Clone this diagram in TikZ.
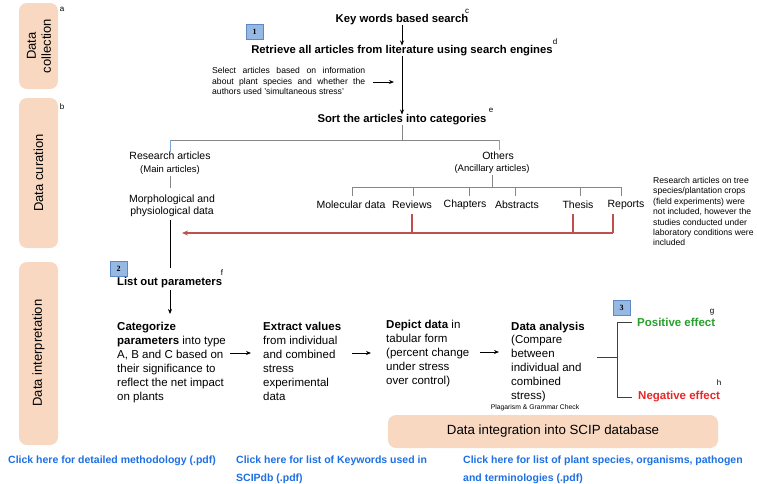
\documentclass[tikz,border=0pt]{standalone}
\usepackage{fontspec}
\setmainfont{Liberation Sans}
\newfontfamily\serifnum{Liberation Serif}
\usetikzlibrary{arrows.meta}
\definecolor{peach}{RGB}{249,216,194}
\definecolor{treegray}{RGB}{135,135,135}
\definecolor{tickblue}{RGB}{125,165,210}
\definecolor{redline}{RGB}{190,80,78}
\definecolor{numfill}{RGB}{150,185,228}
\definecolor{numdraw}{RGB}{95,135,195}
\definecolor{posgreen}{RGB}{40,160,45}
\definecolor{negred}{RGB}{232,40,40}
\definecolor{linkblue}{RGB}{30,112,228}
\begin{document}
\begin{tikzpicture}[x=1pt,y=-1pt,
  bar/.style={fill=peach,draw=none,rounded corners=8pt},
  barlabel/.style={rotate=90,align=center,inner sep=0,font=\fontsize{13}{15}\selectfont},
  head/.style={inner sep=0,font=\fontsize{11.3}{13}\selectfont\bfseries},
  tag/.style={inner sep=0,font=\fontsize{8}{9}\selectfont},
  treelbl/.style={inner sep=0,align=center,font=\fontsize{10.5}{12}\selectfont},
  sublbl/.style={inner sep=0,align=center,font=\fontsize{9.5}{11}\selectfont},
  note/.style={inner sep=0,align=left,font=\fontsize{8.6}{10.4}\selectfont},
  body/.style={inner sep=0,align=left,anchor=base west,font=\fontsize{11.5}{13.9}\selectfont},
  numbox/.style={fill=numfill,draw=numdraw,line width=0.5pt,minimum width=17pt,minimum height=15pt,inner sep=0,font=\serifnum\bfseries\fontsize{8}{9}\selectfont},
  arr/.style={-{Stealth[length=5pt,width=4pt]},line width=0.8pt},
  tree/.style={draw=treegray,line width=1pt},
  tickb/.style={draw=tickblue,line width=1pt},
  redl/.style={draw=redline,line width=1.2pt},
  link/.style={inner sep=0,align=left,anchor=base west,text=linkblue,font=\fontsize{10.5}{18}\selectfont\bfseries}]
\useasboundingbox[fill=white] (0,0) rectangle (757,483);

% stage bars
\fill[bar] (19,3) rectangle (58,89);
\fill[bar] (19,98) rectangle (58,248);
\fill[bar] (19,262) rectangle (58,445);
\node[barlabel] (b1) at (39,46) {Data\\collection};
\node[barlabel] (b2) at (38.5,173) {Data curation};
\node[barlabel] (b3) at (38.5,353) {Data interpretation};
\node[tag] (ta) at (62,9) {a};
\node[tag] (tb) at (62,107) {b};

% data collection
\node[numbox] (n1) at (254.5,31.5) {1};
\node[head] (key) at (402,20) {Key words based search};
\node[tag] (tc) at (467,11) {c};
\node[head] (retr) at (402,51) {Retrieve all articles from literature using search engines};
\node[tag] (td) at (555,42) {d};
\node[note,text width=153pt,align=justify,anchor=west] (sel) at (212,81)
  {Select articles based on information\linebreak about plant species and whether the\linebreak authors used 'simultaneous stress'};
\node[head] (sort) at (402,120) {Sort the articles into categories};
\node[tag] (te) at (491,110) {e};
\coordinate (selend) at (394,82);
\draw[arr] (key) -- (retr);
\draw[arr] (retr) -- (sort);
\draw[arr] (373,82) -- (selend);

% tree
\coordinate (tj) at (402,140);
\coordinate (tl) at (170,140);
\coordinate (tr) at (499,140);
\draw[tree] (sort.south) -- (tj);
\draw[tree] (tl) -- (tr);
\node[treelbl] (ra) at (170,156) {Research articles};
\node[sublbl] (ram) at (170,170.5) {(Main articles)};
\node[treelbl] (morph) at (172,206) {Morphological and\\physiological data};
\node[treelbl] (oth) at (498,156) {Others};
\node[sublbl] (anc) at (492,169) {(Ancillary articles)};
\draw[tickb] (tl) -- (tl |- ra.north);
\draw[tickb] (tr) -- ++(0,10);
\draw[tree] (ram.south) ++(0,1) -- (170,188);
\draw[tree] (anc.south) ++(0,1) -- (492,187);
\coordinate (sl) at (352,187);
\coordinate (sr) at (621,187);
\draw[tree] (sl) -- (sr);
\node[treelbl] (mol) at (351,205) {Molecular data};
\node[treelbl] (rev) at (412,205) {Reviews};
\node[treelbl] (chap) at (465,205) {Chapters};
\node[treelbl] (abs) at (517,205) {Abstracts};
\node[treelbl] (thes) at (578,205) {Thesis};
\node[treelbl] (rep) at (626,205) {Reports};
\foreach \x in {352,413,469,515,580,621} \draw[tree] (\x,187) -- (\x,196);

% excluded categories (red)
\coordinate (r1) at (412,233);
\coordinate (r2) at (573,233);
\coordinate (r3) at (613,233);
\coordinate (rend) at (182,233);
\draw[redl] (412,214) -- (r1);
\draw[redl] (573,214) -- (r2);
\draw[redl] (613,214) -- (r3);
\draw[redl,-{Stealth[length=6pt,width=5pt]}] (r3) -- (rend);
\node[note,anchor=north west] (excl) at (653,177)
  {Research articles on tree\\species/plantation crops\\(field experiments) were\\not included, however the\\studies conducted under\\laboratory conditions were\\included};

% data interpretation
\node[numbox] (n2) at (118.5,268.5) {2};
\node[head,anchor=west] (list) at (117,283) {List out parameters};
\node[tag] (tf) at (222,273) {f};
\draw[line width=0.8pt] (morph.south -| 170,0) ++(0,3) -- (170,268);
\coordinate (catin) at (170,314);
\draw[arr] (170,290) -- (catin);

\node[body] (cat) at (117,400) {\textbf{Categorize}\\\textbf{parameters} into type\\A, B and C based on\\their significance to\\reflect the net impact\\on plants};
\node[body] (ext) at (263,400) {\textbf{Extract values}\\from individual\\and combined\\stress\\experimental\\data};
\node[body] (dep) at (386,384) {\textbf{Depict data} in\\tabular form\\(percent change\\under stress\\over control)};
\node[body] (ana) at (511,399.5) {\textbf{Data analysis}\\(Compare\\between\\individual and\\combined\\stress)};
\draw[arr] (230,353) -- (251,353);
\draw[arr] (352,353) -- (371,353);
\draw[arr] (480,352) -- (499,352);
\node[inner sep=0,font=\fontsize{6.8}{8}\selectfont] (plag) at (535,408) {Plagarism \& Grammar Check};

% results
\node[numbox] (n3) at (621.5,307.5) {3};
\draw[line width=0.9pt,draw=black!75] (597,357) -- (617,357);
\draw[line width=0.9pt,draw=black!75] (632,322) -- (617,322) -- (617,397) -- (632,397);
\node[inner sep=0,anchor=west,text=posgreen,font=\fontsize{11.5}{13}\selectfont\bfseries] (pos) at (637,322) {Positive effect};
\node[inner sep=0,anchor=west,text=negred,font=\fontsize{11.5}{13}\selectfont\bfseries] (neg) at (638,397) {Negative effect};
\node[tag] (tg) at (712,312) {g};
\node[tag] (th) at (719,383) {h};

% integration
\fill[bar] (388,415) rectangle (718,448);
\node[inner sep=0,font=\fontsize{13.3}{15}\selectfont] (integ) at (553,431.5) {Data integration into SCIP database};

% links
\node[link] (l1) at (8,463) {Click here for detailed methodology (.pdf)};
\node[link] (l2) at (236,481) {Click here for list of Keywords used in\\SCIPdb (.pdf)};
\node[link] (l3) at (463,481) {Click here for list of plant species, organisms, pathogen\\and terminologies (.pdf)};
\end{tikzpicture}
\end{document}
